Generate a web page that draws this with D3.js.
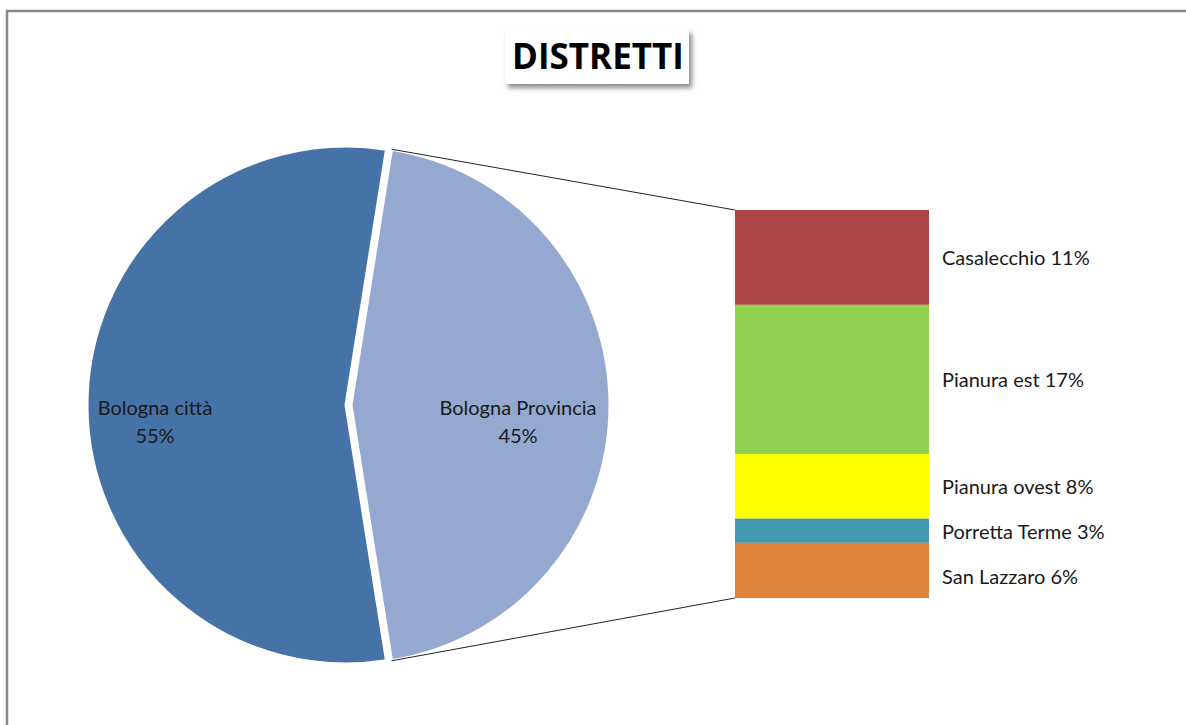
<!DOCTYPE html>
<html lang="it">
	<head>
		<meta charset="utf-8">
		<title>DISTRETTI</title>
		<script src="https://d3js.org/d3.v7.min.js"></script>
		<style>
			body { margin: 0; background: #fff; }
			text { font-family: Lato, "Open Sans", sans-serif; fill: #1a1a1a; }
		</style>
	</head>
	<body>
		<script>

			// Pie data
			var pieLabels = ["Bologna Provincia", "Bologna città"];
			var pieValues = [45, 55];
			var pieColors = ["#95a9d0", "#4673a7"];

			// Bar (breakdown of Bologna Provincia)
			var districts = ["Casalecchio", "Pianura est", "Pianura ovest", "Porretta Terme", "San Lazzaro"];
			var districtValues = [11.0, 17.3, 7.5, 2.8, 6.4];
			var districtColors = ["#aa4744", "#92d050", "#ffff00", "#4198af", "#dd823b"];

			var w = 1186, h = 725;

			var svg = d3.select("body").append("svg")
				.attr("width", w)
				.attr("height", h);

			// chart frame
			svg.append("path")
				.attr("d", "M7," + h + "V11H" + w)
				.attr("fill", "none")
				.attr("stroke", "#888")
				.attr("stroke-width", 2.5);

			// title with shadow
			var defs = svg.append("defs");
			var f = defs.append("filter").attr("id", "shadow")
				.attr("x", "-10%").attr("y", "-20%").attr("width", "130%").attr("height", "160%");
			f.append("feDropShadow").attr("dx", 3).attr("dy", 4).attr("stdDeviation", 2.5)
				.attr("flood-color", "#000").attr("flood-opacity", 0.45);

			svg.append("rect")
				.attr("x", 505).attr("y", 29).attr("width", 184).attr("height", 55)
				.attr("fill", "#fff")
				.attr("filter", "url(#shadow)");
			svg.append("text")
				.attr("x", 598).attr("y", 69)
				.attr("text-anchor", "middle")
				.style("font-family", "'Open Sans', Lato, sans-serif")
				.style("font-weight", "bold")
				.style("font-size", "35px")
				.style("fill", "#000")
				.text("DISTRETTI");

			// pie: provincia slice centred on 3 o'clock
			var total = d3.sum(pieValues);
			var provAngle = pieValues[0] / total * 2 * Math.PI;
			var start = Math.PI / 2 - provAngle / 2;
			var pie = d3.pie().sort(null).startAngle(start).endAngle(start + 2 * Math.PI);
			var arcs = pie(pieValues);

			var r = 259, cy = 405;
			var centers = [351, 346];
			var arc = d3.arc().innerRadius(0).outerRadius(r);

			svg.selectAll("path.slice")
				.data(arcs)
				.enter()
				.append("path")
				.attr("class", "slice")
				.attr("transform", function(d, i) { return "translate(" + centers[i] + "," + cy + ")"; })
				.attr("d", arc)
				.attr("fill", function(d, i) { return pieColors[i]; })
				.attr("stroke", "#fff")
				.attr("stroke-width", 3)
				.attr("stroke-linejoin", "round");

			// pie labels
			var labelPos = [[518, 408], [155, 408]];
			arcs.forEach(function(d, i) {
				var t = svg.append("text")
					.attr("text-anchor", "middle")
					.style("font-size", "20px");
				t.append("tspan").attr("x", labelPos[i][0]).attr("y", labelPos[i][1] + 7).text(pieLabels[i]);
				t.append("tspan").attr("x", labelPos[i][0]).attr("y", labelPos[i][1] + 35).text(pieValues[i] + "%");
			});

			// stacked bar
			var barX = 735, barW = 194;
			var y = d3.scaleLinear().domain([0, d3.sum(districtValues)]).range([210, 598]);
			var cum = d3.cumsum(districtValues);
			var segs = districtValues.map(function(v, i) { return { name: districts[i], v: v, y0: cum[i] - v, y1: cum[i] }; });

			svg.selectAll("rect.seg")
				.data(segs)
				.enter()
				.append("rect")
				.attr("class", "seg")
				.attr("x", barX)
				.attr("width", barW)
				.attr("y", function(d) { return y(d.y0); })
				.attr("height", function(d) { return y(d.y1) - y(d.y0); })
				.attr("fill", function(d, i) { return districtColors[i]; });

			// label positions: segment centres, pushed down so they don't collide
			var prev = -Infinity;
			segs.forEach(function(d) {
				d.ly = Math.max((y(d.y0) + y(d.y1)) / 2, prev + 45);
				prev = d.ly;
			});

			svg.selectAll("text.seg")
				.data(segs)
				.enter()
				.append("text")
				.attr("class", "seg")
				.attr("x", 942)
				.attr("y", function(d) { return d.ly + 8; })
				.style("font-size", "20px")
				.text(function(d) { return d.name + " " + Math.round(d.v) + "%"; });

			// connector lines from provincia slice to bar
			var pa = arcs[0];
			var p1 = [centers[0] + r * Math.sin(pa.startAngle), cy - r * Math.cos(pa.startAngle)];
			var p2 = [centers[0] + r * Math.sin(pa.endAngle), cy - r * Math.cos(pa.endAngle)];
			svg.append("line")
				.attr("x1", p1[0]).attr("y1", p1[1]).attr("x2", barX).attr("y2", y(0))
				.attr("stroke", "#222").attr("stroke-width", 1);
			svg.append("line")
				.attr("x1", p2[0]).attr("y1", p2[1]).attr("x2", barX).attr("y2", y(d3.sum(districtValues)))
				.attr("stroke", "#222").attr("stroke-width", 1);

		</script>
	</body>
</html>
